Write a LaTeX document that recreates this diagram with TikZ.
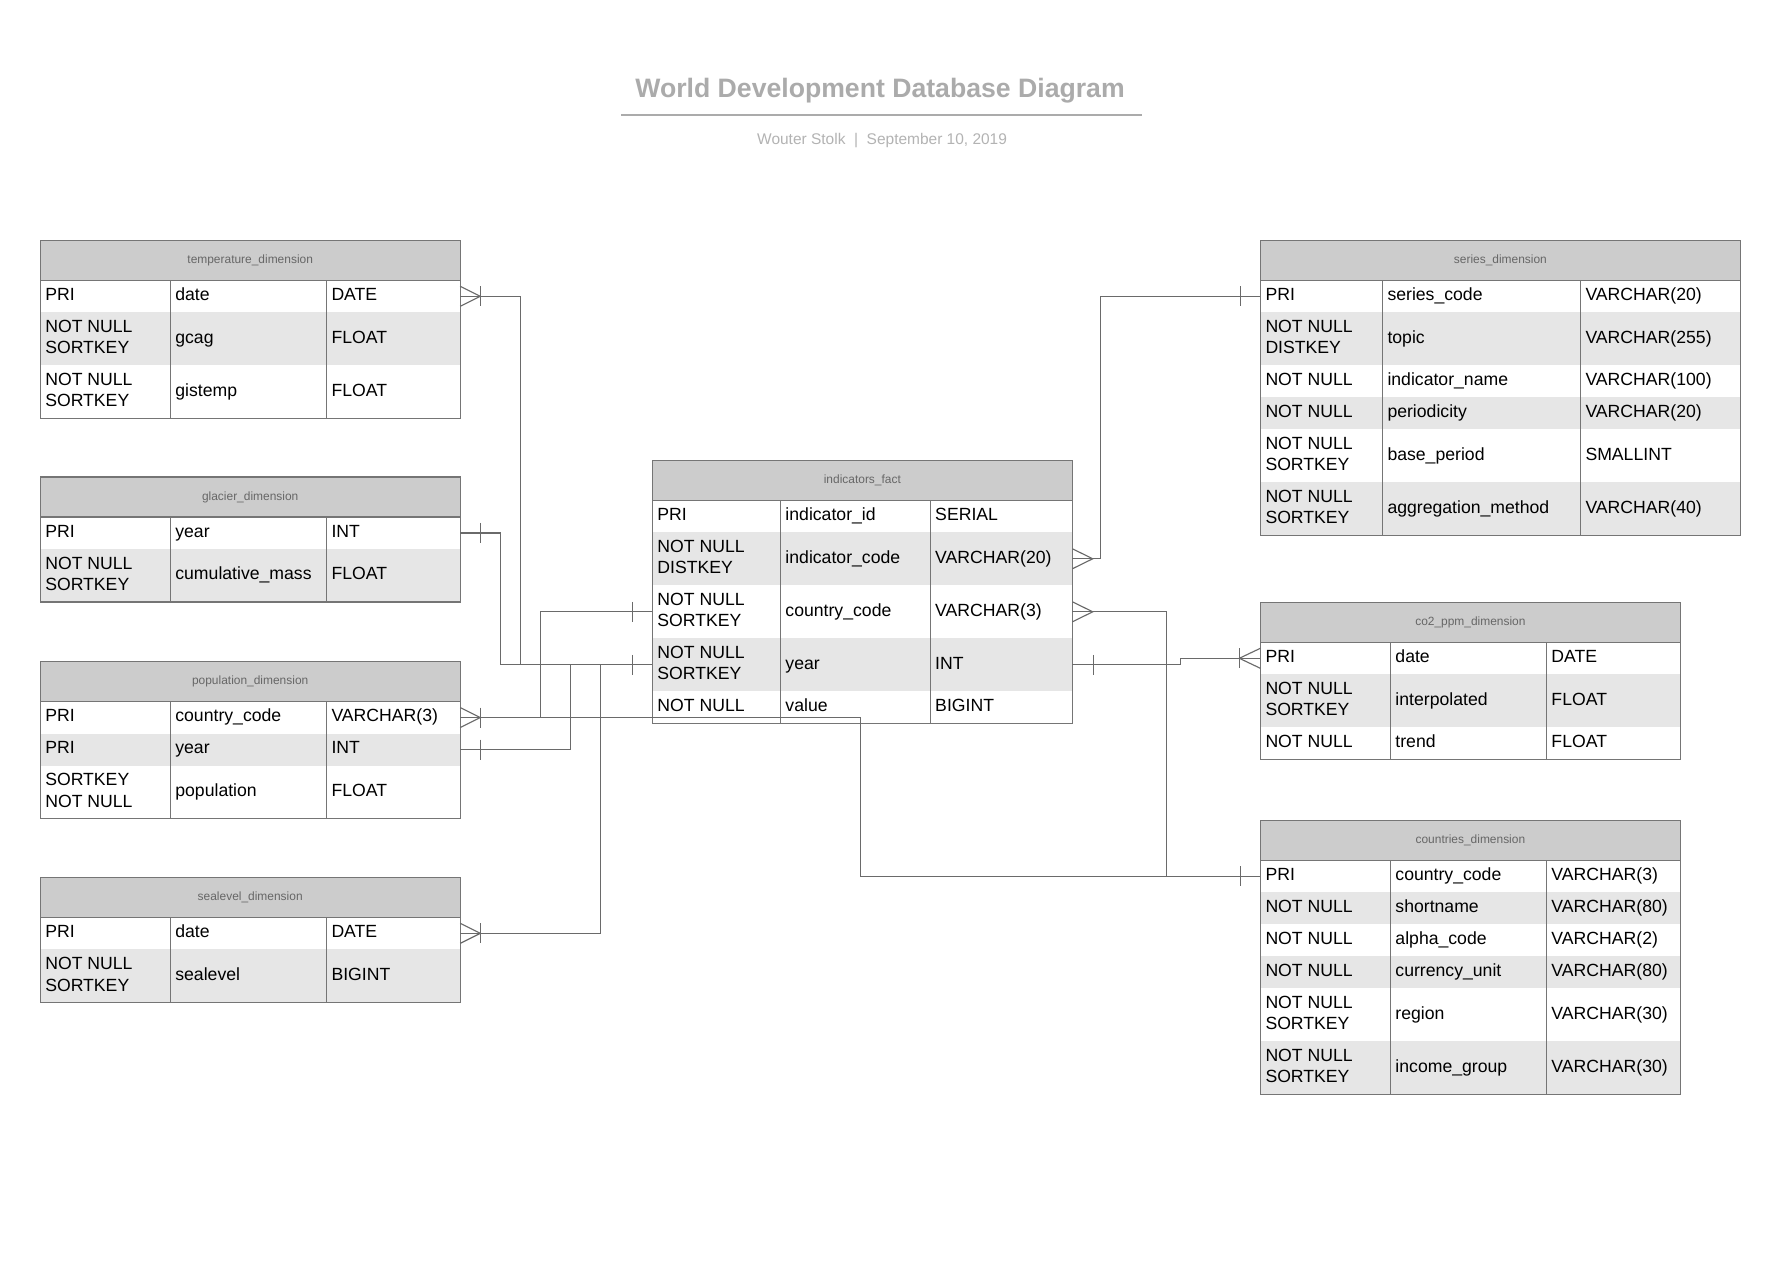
\documentclass[tikz,border=0pt]{standalone}
\usepackage{fontspec}
\setmainfont{Liberation Sans}
\usetikzlibrary{positioning}

\definecolor{headgray}{HTML}{CCCCCC}
\definecolor{rowgray}{HTML}{E6E6E6}
\definecolor{linegray}{HTML}{757575}
\definecolor{conngray}{HTML}{6A6A6A}
\definecolor{titlegray}{HTML}{ABABAB}
\definecolor{subgray}{HTML}{B3B3B3}
\definecolor{labelgray}{HTML}{666666}

\tikzset{
  tblhead/.style={fill=headgray, minimum width=\tblw, minimum height=35.1, anchor=north west,
    inner sep=0, outer sep=0, text=labelgray, font=\fontsize{10.5}{12.6}\selectfont},
  rowbox/.style={draw=none, minimum width=\tblw, inner sep=0, outer sep=0},
  celltext/.style={anchor=west, inner sep=0, outer sep=0, align=left, font=\fontsize{15.5}{19}\selectfont},
  tblline/.style={draw=linegray, line width=1pt},
  conn/.style={draw=conngray, line width=1pt},
}

% one row of a table: name, node above, height, fill, key, field, type
\newcommand{\erdrow}[7]{%
  \node[rowbox, minimum height=#3, fill=#4, below right=0pt and 0pt of #2.south west] (#1) {};
  \node[celltext, right=4.5pt of #1.west] (#1-k) {\strut#5\strut};
  \node[celltext] (#1-f) at ([xshift=\colb+4.5]#1.west) {\strut#6\strut};
  \node[celltext] (#1-t) at ([xshift=\colc+4.5]#1.west) {\strut#7\strut};
}

% column lines and border of a table: header, last row
\newcommand{\erdframe}[2]{%
  \draw[tblline] ([xshift=\colb]#1.south west) -- ([xshift=\colb]#2.south west);
  \draw[tblline] ([xshift=\colc]#1.south west) -- ([xshift=\colc]#2.south west);
  \draw[tblline] (#1.south west) -- (#1.south east);
  \draw[tblline] (#1.north west) rectangle (#2.south east);
}

% relation ends: bar and crow's foot
\newcommand{\erdbar}[2]{\draw[conn] ([xshift=#2,yshift=8.8]#1) -- ([xshift=#2,yshift=-8.8]#1);}
\newcommand{\erdcrow}[2]{\draw[conn] ([yshift=8.8]#1) -- ([xshift=#2]#1) -- ([yshift=-8.8]#1);}

\begin{document}
\begin{tikzpicture}[x=1pt, y=-1pt]
    % Page
    \path[use as bounding box, fill=white] (0,0) rectangle (1568.5,1123);

    % Title block
    \node[anchor=base, inner sep=0, text=titlegray, font=\fontsize{23.4}{28}\selectfont\bfseries]
      (title) at (773.3,85.3) {World Development Database Diagram};
    \coordinate (ruleL) at (545.7,101);
    \coordinate (ruleR) at (1003.5,101);
    \draw[titlegray, line width=2pt] (ruleL) -- (ruleR);
    \node[anchor=base, inner sep=0, text=subgray, font=\fontsize{13.6}{16}\selectfont]
      (subtitle) at (775.1,127) {Wouter Stolk\ \ |\ \ September 10, 2019};

    % temperature_dimension
    \def\tblw{369.1}\def\colb{114.3}\def\colc{251.5}
    \node[tblhead] (temp) at (35.3,211.2) {temperature\_dimension};
    \erdrow{temp-date}{temp}{28.1}{white}{PRI}{date}{DATE}
    \erdrow{temp-gcag}{temp-date}{46.6}{rowgray}{NOT NULL\\SORTKEY}{gcag}{FLOAT}
    \erdrow{temp-gistemp}{temp-gcag}{46.6}{white}{NOT NULL\\SORTKEY}{gistemp}{FLOAT}
    \erdframe{temp}{temp-gistemp}

    % glacier_dimension
    \node[tblhead] (glacier) at (35.3,419.2) {glacier\_dimension};
    \erdrow{glacier-year}{glacier}{28.1}{white}{PRI}{year}{INT}
    \erdrow{glacier-mass}{glacier-year}{46.6}{rowgray}{NOT NULL\\SORTKEY}{cumulative\_mass}{FLOAT}
    \erdframe{glacier}{glacier-mass}

    % population_dimension
    \node[tblhead] (pop) at (35.3,581.4) {population\_dimension};
    \erdrow{pop-country}{pop}{28.1}{white}{PRI}{country\_code}{VARCHAR(3)}
    \erdrow{pop-year}{pop-country}{28.1}{rowgray}{PRI}{year}{INT}
    \erdrow{pop-population}{pop-year}{46.6}{white}{SORTKEY\\NOT NULL}{population}{FLOAT}
    \erdframe{pop}{pop-population}

    % sealevel_dimension
    \node[tblhead] (sea) at (35.3,771) {sealevel\_dimension};
    \erdrow{sea-date}{sea}{28.1}{white}{PRI}{date}{DATE}
    \erdrow{sea-level}{sea-date}{46.6}{rowgray}{NOT NULL\\SORTKEY}{sealevel}{BIGINT}
    \erdframe{sea}{sea-level}

    % indicators_fact
    \def\colb{112.5}\def\colc{244.1}
    \node[tblhead] (fact) at (573.2,404.5) {indicators\_fact};
    \erdrow{fact-id}{fact}{28.1}{white}{PRI}{indicator\_id}{SERIAL}
    \erdrow{fact-code}{fact-id}{46.6}{rowgray}{NOT NULL\\DISTKEY}{indicator\_code}{VARCHAR(20)}
    \erdrow{fact-country}{fact-code}{46.6}{white}{NOT NULL\\SORTKEY}{country\_code}{VARCHAR(3)}
    \erdrow{fact-year}{fact-country}{46.6}{rowgray}{NOT NULL\\SORTKEY}{year}{INT}
    \erdrow{fact-value}{fact-year}{28.1}{white}{NOT NULL}{value}{BIGINT}
    \erdframe{fact}{fact-value}

    % series_dimension
    \def\tblw{421.8}\def\colb{107.2}\def\colc{281.2}
    \node[tblhead] (series) at (1107.5,211.2) {series\_dimension};
    \erdrow{series-code}{series}{28.1}{white}{PRI}{series\_code}{VARCHAR(20)}
    \erdrow{series-topic}{series-code}{46.6}{rowgray}{NOT NULL\\DISTKEY}{topic}{VARCHAR(255)}
    \erdrow{series-name}{series-topic}{28.1}{white}{NOT NULL}{indicator\_name}{VARCHAR(100)}
    \erdrow{series-period}{series-name}{28.1}{rowgray}{NOT NULL}{periodicity}{VARCHAR(20)}
    \erdrow{series-base}{series-period}{46.6}{white}{NOT NULL\\SORTKEY}{base\_period}{SMALLINT}
    \erdrow{series-agg}{series-base}{46.6}{rowgray}{NOT NULL\\SORTKEY}{aggregation\_method}{VARCHAR(40)}
    \erdframe{series}{series-agg}

    % co2_ppm_dimension
    \def\tblw{369.1}\def\colb{114.2}\def\colc{251.3}
    \node[tblhead] (co2) at (1107.5,529.3) {co2\_ppm\_dimension};
    \erdrow{co2-date}{co2}{28.1}{white}{PRI}{date}{DATE}
    \erdrow{co2-interp}{co2-date}{46.6}{rowgray}{NOT NULL\\SORTKEY}{interpolated}{FLOAT}
    \erdrow{co2-trend}{co2-interp}{28.1}{white}{NOT NULL}{trend}{FLOAT}
    \erdframe{co2}{co2-trend}

    % countries_dimension
    \node[tblhead] (ctry) at (1107.5,720.9) {countries\_dimension};
    \erdrow{ctry-code}{ctry}{28.1}{white}{PRI}{country\_code}{VARCHAR(3)}
    \erdrow{ctry-short}{ctry-code}{28.1}{rowgray}{NOT NULL}{shortname}{VARCHAR(80)}
    \erdrow{ctry-alpha}{ctry-short}{28.1}{white}{NOT NULL}{alpha\_code}{VARCHAR(2)}
    \erdrow{ctry-currency}{ctry-alpha}{28.1}{rowgray}{NOT NULL}{currency\_unit}{VARCHAR(80)}
    \erdrow{ctry-region}{ctry-currency}{46.6}{white}{NOT NULL\\SORTKEY}{region}{VARCHAR(30)}
    \erdrow{ctry-income}{ctry-region}{46.6}{rowgray}{NOT NULL\\SORTKEY}{income\_group}{VARCHAR(30)}
    \erdframe{ctry}{ctry-income}

    % Relations on the left
    \draw[conn] (temp-date.east) -- ++(52.8,0) |- (fact-year.west);
    \draw[conn] (glacier-year.east) -- ++(35.3,0) |- (fact-year.west);
    \draw[conn] (pop-year.east) -- ++(96.8,0) |- (fact-year.west);
    \draw[conn] (sea-date.east) -- ++(123.1,0) |- (fact-year.west);
    \draw[conn] (fact-country.west) -- ++(-98.4,0) |- (pop-country.east);
    \draw[conn] (pop-country.east) -- ++(351.6,0) |- (ctry-code.west);

    % Relations on the right
    \draw[conn] (series-code.west) -- ++(-140.6,0) |- (fact-code.east);
    \draw[conn] (fact-country.east) -- ++(82.6,0) |- (ctry-code.west);
    \draw[conn] (fact-year.east) -- ++(94.9,0) |- (co2-date.west);

    % Ends of the relations
    \erdcrow{temp-date.east}{17.6} \erdbar{temp-date.east}{17.6}
    \erdbar{glacier-year.east}{17.6}
    \erdcrow{pop-country.east}{17.6} \erdbar{pop-country.east}{17.6}
    \erdbar{pop-year.east}{17.6}
    \erdcrow{sea-date.east}{17.6} \erdbar{sea-date.east}{17.6}
    \erdbar{fact-country.west}{-17.5}
    \erdbar{fact-year.west}{-17.5}
    \erdcrow{fact-code.east}{17.9}
    \erdcrow{fact-country.east}{17.9}
    \erdbar{fact-year.east}{18.5}
    \erdbar{series-code.west}{-17.5}
    \erdcrow{co2-date.west}{-18.5} \erdbar{co2-date.west}{-18.5}
    \erdbar{ctry-code.west}{-17.5}
\end{tikzpicture}
\end{document}
